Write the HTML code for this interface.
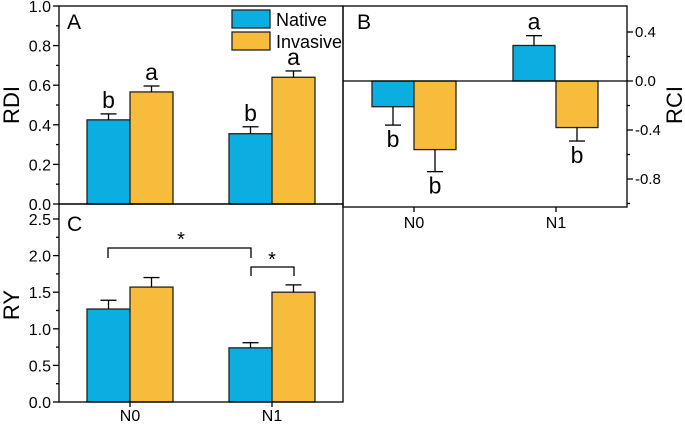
<!DOCTYPE html>
<html><head><meta charset="utf-8"><style>
body{margin:0;background:#fff}
svg{display:block;font-family:"Liberation Sans",sans-serif}
</style></head><body>
<svg id="c" width="685" height="424" viewBox="0 0 685 424"></svg>
<script>
const groups=["N0","N1"];
const rdiNative=[0.425,0.355], rdiNativeErr=[0.03,0.035];
const rdiInv=[0.566,0.64], rdiInvErr=[0.03,0.032];
const rdiLetN=["b","b"], rdiLetI=["a","a"];
const rciNative=[-0.21,0.29], rciNativeErr=[0.15,0.08];
const rciInv=[-0.56,-0.38], rciInvErr=[0.18,0.11];
const rciLetN=["b","a"], rciLetI=["b","b"];
const ryNative=[1.27,0.74], ryNativeErr=[0.12,0.07];
const ryInv=[1.57,1.50], ryInvErr=[0.13,0.10];
const rdiTicks=["0.0","0.2","0.4","0.6","0.8","1.0"];
const rciTicks=["-0.8","-0.4","0.0","0.4"];
const ryTicks=["0.0","0.5","1.0","1.5","2.0","2.5"];
const BLUE="#0aaee0",ORG="#f8bc3c";
const S=document.getElementById('c');const NS="http://www.w3.org/2000/svg";
function el(t,a,txt){const e=document.createElementNS(NS,t);for(const k in a)e.setAttribute(k,a[k]);if(txt!==undefined)e.textContent=txt;S.appendChild(e);return e;}
function line(x1,y1,x2,y2,name,w){const e=el('line',{x1,y1,x2,y2,stroke:'#000','stroke-width':w||1.3});

return e;}
function text(x,y,s,size,name,anchor){const e=el('text',{x,y,'font-size':size,'text-anchor':anchor||'middle'},s);

return e;}
function bar(x,w,y0,y1,fill,name){const e=el('rect',{x,y:Math.min(y0,y1),width:w,height:Math.abs(y1-y0),fill,stroke:'#222','stroke-width':1.3});

return e;}
function errbar(cx,yv,ye,name){line(cx,yv,cx,ye,name);line(cx-8,ye,cx+8,ye,name+'-cap');}
// panel A
const yA=v=>204-v*198;
const xN=[87,229],xI=[130,272],bw=43;
for(let i=0;i<2;i++){
 bar(xN[i],bw,yA(0),yA(rdiNative[i]),BLUE,'rdi-native-bar-'+groups[i]);
 errbar(xN[i]+bw/2,yA(rdiNative[i]),yA(rdiNative[i]+rdiNativeErr[i]),'rdi-native-err-'+groups[i]);
 text(xN[i]+bw/2,yA(rdiNative[i]+rdiNativeErr[i])-6,rdiLetN[i],23,'rdi-native-letter');
 bar(xI[i],bw,yA(0),yA(rdiInv[i]),ORG,'rdi-invasive-bar-'+groups[i]);
 errbar(xI[i]+bw/2,yA(rdiInv[i]),yA(rdiInv[i]+rdiInvErr[i]),'rdi-invasive-err-'+groups[i]);
 text(xI[i]+bw/2,yA(rdiInv[i]+rdiInvErr[i])-6,rdiLetI[i],23,'rdi-invasive-letter');
}
el('rect',{x:59,y:6,width:284,height:198,fill:'none',stroke:'#000','stroke-width':1.3});
rdiTicks.forEach(t=>{const y=yA(+t);line(53,y,59,y,'rdi-tick');text(51,y+6,t,16,'rdi-tick-label','end');});
for(let v=0.1;v<1;v+=0.2)line(56,yA(v),59,yA(v),'rdi-minor-tick');
text(0,0,'RDI',22,'rdi-axis-title').setAttribute('transform','translate(19,105) rotate(-90)');
text(67,29,'A',21,'panel-a-label','start');
bar(232,38,10,28,BLUE,'legend-native-swatch');text(276,26,'Native',18,'legend-native-label','start');
bar(232,38,32,50,ORG,'legend-invasive-swatch');text(276,48,'Invasive',18,'legend-invasive-label','start');
// panel B
const yB=v=>81-v*122.5;
const xNB=[372,513],xIB=[414,556],bwB=42;
function letterPos(v,e){return v>=0?yB(v+e)-6:yB(v-e)+22;}
for(let i=0;i<2;i++){
 bar(xNB[i],bwB,yB(0),yB(rciNative[i]),BLUE,'rci-native-bar-'+groups[i]);
 const en=rciNative[i]>=0?rciNative[i]+rciNativeErr[i]:rciNative[i]-rciNativeErr[i];
 errbar(xNB[i]+bwB/2,yB(rciNative[i]),yB(en),'rci-native-err-'+groups[i]);
 text(xNB[i]+bwB/2,letterPos(rciNative[i],rciNativeErr[i]),rciLetN[i],23,'rci-native-letter');
 bar(xIB[i],bwB,yB(0),yB(rciInv[i]),ORG,'rci-invasive-bar-'+groups[i]);
 const ei=rciInv[i]>=0?rciInv[i]+rciInvErr[i]:rciInv[i]-rciInvErr[i];
 errbar(xIB[i]+bwB/2,yB(rciInv[i]),yB(ei),'rci-invasive-err-'+groups[i]);
 text(xIB[i]+bwB/2,letterPos(rciInv[i],rciInvErr[i]),rciLetI[i],23,'rci-invasive-letter');
}
line(343,yB(0),627,yB(0),'rci-zero-line');
el('rect',{x:343,y:6,width:284,height:201,fill:'none',stroke:'#000','stroke-width':1.3});
rciTicks.forEach(t=>{const y=yB(+t);line(627,y,633,y,'rci-tick');text(635,y+5,t,15,'rci-tick-label','start');});
for(let v=-1.0;v<0.6;v+=0.4)line(627,yB(v),630,yB(v),'rci-minor-tick');
text(0,0,'RCI',22,'rci-axis-title').setAttribute('transform','translate(682,105) rotate(-90)');
text(357,29,'B',21,'panel-b-label','start');
groups.forEach((g,i)=>{line(xIB[i],207,xIB[i],212,'rci-x-tick');text(xIB[i],228,g,16,'rci-x-label');});
// panel C
const yC=v=>402-v*73.2;
for(let i=0;i<2;i++){
 bar(xN[i],bw,yC(0),yC(ryNative[i]),BLUE,'ry-native-bar-'+groups[i]);
 errbar(xN[i]+bw/2,yC(ryNative[i]),yC(ryNative[i]+ryNativeErr[i]),'ry-native-err-'+groups[i]);
 bar(xI[i],bw,yC(0),yC(ryInv[i]),ORG,'ry-invasive-bar-'+groups[i]);
 errbar(xI[i]+bw/2,yC(ryInv[i]),yC(ryInv[i]+ryInvErr[i]),'ry-invasive-err-'+groups[i]);
}
el('rect',{x:59,y:204,width:284,height:198,fill:'none',stroke:'#000','stroke-width':1.3});
ryTicks.forEach(t=>{const y=yC(+t);line(53,y,59,y,'ry-tick');text(51,y+6,t,16,'ry-tick-label','end');});
for(let v=0.25;v<2.6;v+=0.5)line(56,yC(v),59,yC(v),'ry-minor-tick');
text(0,0,'RY',22,'ry-axis-title').setAttribute('transform','translate(19,305) rotate(-90)');
text(67,231,'C',21,'panel-c-label','start');
groups.forEach((g,i)=>{line(xI[i],402,xI[i],407,'ry-x-tick');text(xI[i],421,g,16,'ry-x-label');});
const p1=el('path',{d:'M108,258 V248 H251 V258',fill:'none',stroke:'#000','stroke-width':1.3});


text(181,246,'*',20,'significance-star');
const p2=el('path',{d:'M251,276 V267 H294 V276',fill:'none',stroke:'#000','stroke-width':1.3});


text(272,266,'*',20,'significance-star');
</script>
</body></html>
